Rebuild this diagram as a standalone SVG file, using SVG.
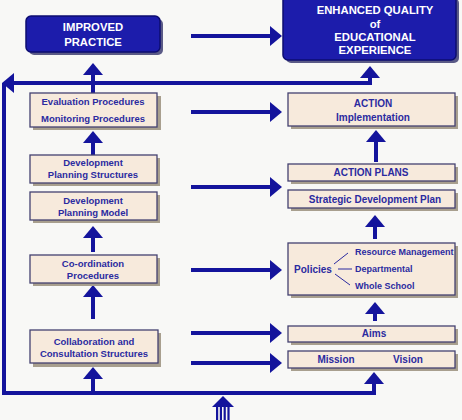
<svg xmlns="http://www.w3.org/2000/svg" width="462" height="420" viewBox="0 0 462 420">
<style>
.bg{fill:#f8f8f6}
.sh{fill:#a89f8e}
.bx{fill:#f7eadc;stroke:#444170;stroke-width:1.3}
.dsh{fill:#5a5a86}
.dbx{fill:#1c1cab;stroke:#0c0c70;stroke-width:1.5}
.t{font-family:"Liberation Sans",Arial,sans-serif;font-weight:bold;fill:#2b2ba0;text-anchor:middle}
.tl{font-size:9.5px}
.tr{font-size:10px}
.ts{font-size:9px;text-anchor:start}
.tw{font-family:"Liberation Sans",Arial,sans-serif;font-weight:bold;fill:#ffffff;text-anchor:middle;font-size:11.3px}
.c{fill:none;stroke:#14149c;stroke-width:4}
.thin{fill:none;stroke:#2b2ba0;stroke-width:1}
</style>
<defs>
<marker id="ah" markerUnits="userSpaceOnUse" viewBox="0 0 12 20" refX="9" refY="10" markerWidth="12" markerHeight="20" orient="auto">
<path d="M0,0 L12,10 L0,20 Z" fill="#14149c"/>
</marker>
</defs>
<rect class="bg" x="0" y="0" width="462" height="420"/>

<g id="connectors">
<path class="c" d="M191,36 H279" marker-end="url(#ah)"/>
<path class="c" d="M191,112 H279" marker-end="url(#ah)"/>
<path class="c" d="M191,187 H279" marker-end="url(#ah)"/>
<path class="c" d="M191,270 H279" marker-end="url(#ah)"/>
<path class="c" d="M191,333 H279" marker-end="url(#ah)"/>
<path class="c" d="M191,363 H279" marker-end="url(#ah)"/>
<path class="c" d="M93,93 V66" marker-end="url(#ah)"/>
<path class="c" d="M93,155 V134" marker-end="url(#ah)"/>
<path class="c" d="M93,252 V229" marker-end="url(#ah)"/>
<path class="c" d="M93,319 V288" marker-end="url(#ah)"/>
<path class="c" d="M376,162 V133" marker-end="url(#ah)"/>
<path class="c" d="M375,239 V218" marker-end="url(#ah)"/>
<path class="c" d="M375,321 V305" marker-end="url(#ah)"/>
<path class="c" d="M370,83 H5" marker-end="url(#ah)"/>
<path class="c" d="M370,85 V69" marker-end="url(#ah)"/>
<path class="c" d="M4,83 V393 H374 V375" marker-end="url(#ah)"/>
<path class="c" d="M93,393 V370" marker-end="url(#ah)"/>
<g id="input-arrow" fill="#14149c">
<path d="M212,407 L223,396 L234,407 Z"/>
<rect x="216" y="407" width="2.2" height="13"/>
<rect x="219.8" y="407" width="2.2" height="13"/>
<rect x="223.6" y="407" width="2.2" height="13"/>
<rect x="227.4" y="407" width="2.2" height="13"/>
</g>
</g>

<g id="improved">
<rect class="dsh" x="29" y="19" width="134" height="36" rx="5"/>
<rect class="dbx" x="26" y="16" width="134" height="36" rx="5"/>
<text class="tw" x="93" y="31">IMPROVED</text>
<text class="tw" x="93" y="46">PRACTICE</text>
</g>

<g id="enhanced">
<rect class="dsh" x="286" y="-2" width="173" height="65" rx="5"/>
<rect class="dbx" x="283" y="-5" width="173" height="65" rx="5"/>
<text class="tw" x="375" y="14">ENHANCED QUALITY</text>
<text class="tw" x="375" y="28">of</text>
<text class="tw" x="375" y="41">EDUCATIONAL</text>
<text class="tw" x="375" y="54">EXPERIENCE</text>
</g>

<g id="evaluation">
<rect class="sh" x="33" y="96" width="128" height="34"/>
<rect class="bx" x="30" y="93" width="127" height="34"/>
<text class="t tl" x="93" y="105">Evaluation Procedures</text>
<text class="t tl" x="93" y="122">Monitoring Procedures</text>
</g>

<g id="dev-structures">
<rect class="sh" x="33" y="158" width="127" height="28"/>
<rect class="bx" x="30" y="155" width="127" height="28"/>
<text class="t tl" x="93" y="166">Development</text>
<text class="t tl" x="93" y="178">Planning Structures</text>
</g>

<g id="dev-model">
<rect class="sh" x="33" y="195" width="127" height="28"/>
<rect class="bx" x="30" y="192" width="127" height="28"/>
<text class="t tl" x="93" y="204">Development</text>
<text class="t tl" x="93" y="216">Planning Model</text>
</g>

<g id="coordination">
<rect class="sh" x="33" y="258" width="127" height="28"/>
<rect class="bx" x="30" y="255" width="127" height="28"/>
<text class="t tl" x="93" y="267">Co-ordination</text>
<text class="t tl" x="93" y="279">Procedures</text>
</g>

<g id="collaboration">
<rect class="sh" x="33" y="333" width="128" height="34"/>
<rect class="bx" x="30" y="330" width="128" height="33"/>
<text class="t tl" x="94" y="345">Collaboration and</text>
<text class="t tl" x="94" y="357">Consultation Structures</text>
</g>

<g id="implementation">
<rect class="sh" x="291" y="96" width="167" height="33"/>
<rect class="bx" x="288" y="93" width="167" height="33"/>
<text class="t tr" x="373" y="107">ACTION</text>
<text class="t tr" x="373" y="121">Implementation</text>
</g>

<g id="action-plans">
<rect class="sh" x="291" y="167" width="167" height="17"/>
<rect class="bx" x="288" y="164" width="167" height="17"/>
<text class="t tr" x="371" y="176">ACTION PLANS</text>
</g>

<g id="strategic">
<rect class="sh" x="291" y="193" width="167" height="18"/>
<rect class="bx" x="288" y="190" width="167" height="18"/>
<text class="t tr" x="375" y="203">Strategic Development Plan</text>
</g>

<g id="policies">
<rect class="sh" x="291" y="246" width="167" height="52"/>
<rect class="bx" x="288" y="243" width="167" height="52"/>
<text class="t tr" x="313" y="273">Policies</text>
<path class="thin" d="M334,264 L348,253 M338,269 L352,269 M335,274 L350,285"/>
<text class="t ts" x="355" y="255">Resource Management</text>
<text class="t ts" x="355" y="272">Departmental</text>
<text class="t ts" x="355" y="289">Whole School</text>
</g>

<g id="aims">
<rect class="sh" x="291" y="329" width="167" height="16"/>
<rect class="bx" x="288" y="326" width="167" height="16"/>
<text class="t tr" x="374" y="337">Aims</text>
</g>

<g id="mission-vision">
<rect class="sh" x="291" y="354" width="167" height="17"/>
<rect class="bx" x="288" y="351" width="167" height="17"/>
<text class="t tr" x="336" y="363">Mission</text>
<text class="t tr" x="408" y="363">Vision</text>
</g>
</svg>
